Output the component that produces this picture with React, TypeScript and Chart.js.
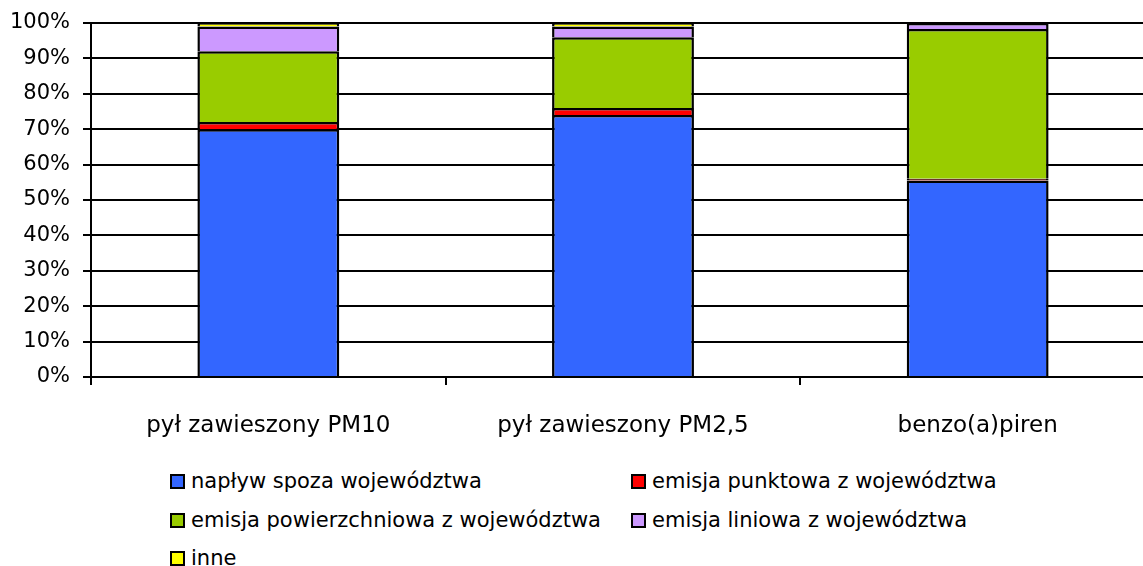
import React, { useEffect, useRef } from "react";
import { Chart, registerables } from "chart.js";

Chart.register(...registerables);

const categories = ["pył zawieszony PM10", "pył zawieszony PM2,5", "benzo(a)piren"];
const seriesNames = [
  "napływ spoza województwa",
  "emisja punktowa z województwa",
  "emisja powierzchniowa z województwa",
  "emisja liniowa z województwa",
  "inne",
];
const seriesColors = ["#3366FF", "#FF0000", "#99CC00", "#CC99FF", "#FFFF00"];
const naplyw = [70, 74, 55.5];
const punktowa = [2, 2, 0.5];
const powierzchniowa = [20, 20, 42.3];
const liniowa = [7, 3, 1.7];
const inne = [1, 1, 0];
const seriesValues = [naplyw, punktowa, powierzchniowa, liniowa, inne];
const yTicks = [0, 10, 20, 30, 40, 50, 60, 70, 80, 90, 100];

const FONT = "'DejaVu Sans', Verdana, sans-serif";

// legend grid: [column, row] per series
const legendCells: [number, number][] = [
  [0, 0],
  [1, 0],
  [0, 1],
  [1, 1],
  [0, 2],
];
const legendColLeft = [170, 631];
const legendRowTop = [473, 512, 550];

export default function App() {
  const ref = useRef<HTMLCanvasElement>(null);
  useEffect(() => {
    const ctx = ref.current!;
    const chart = new Chart(ctx, {
      type: "bar",
      data: {
        labels: categories,
        datasets: seriesValues.map((vals, i) => ({
          label: seriesNames[i],
          data: vals,
          backgroundColor: seriesColors[i],
          borderColor: "#000",
          borderWidth: { top: 2.5, left: 2.5, right: 2.5, bottom: 0 },
          borderSkipped: false,
          inflateAmount: 0,
          barPercentage: 0.4,
          categoryPercentage: 1,
        })),
      },
      options: {
        animation: false,
        responsive: false,
        devicePixelRatio: 1,
        layout: { padding: { top: 23, right: 5, left: 0, bottom: 0 } },
        plugins: { legend: { display: false }, tooltip: { enabled: false } },
        scales: {
          x: {
            stacked: true,
            offset: true,
            grid: {
              offset: true,
              drawOnChartArea: false,
              drawTicks: true,
              tickLength: 8,
              color: "#000",
              lineWidth: 2,
            },
            border: { display: true, color: "#000", width: 2 },
            ticks: {
              color: "#000",
              font: { family: FONT, size: 23 },
              padding: 27,
              maxRotation: 0,
            },
            afterFit: (s: any) => {
              s.height = 73;
              s.paddingLeft = 0;
              s.paddingRight = 0;
            },
          },
          y: {
            stacked: true,
            min: 0,
            max: 100,
            afterBuildTicks: (s: any) => {
              s.ticks = yTicks.map((v) => ({ value: v }));
            },
            grid: {
              color: "#000",
              lineWidth: 2,
              tickLength: 8,
              drawTicks: true,
            },
            border: { display: true, color: "#000", width: 2 },
            ticks: {
              color: "#000",
              font: { family: FONT, size: 21 },
              padding: 13,
              callback: (v: any) => v + "%",
            },
            afterFit: (s: any) => {
              s.width = 91;
              s.paddingTop = 0;
              s.paddingBottom = 0;
            },
          },
        },
      },
    });
    return () => chart.destroy();
  }, []);

  return (
    <div
      style={{
        position: "absolute",
        left: 0,
        top: 0,
        width: 1143,
        height: 566,
        overflow: "hidden",
        background: "#fff",
      }}
    >
      <canvas
        ref={ref}
        width={1160}
        height={450}
        style={{ position: "absolute", left: 0, top: 0, width: 1160, height: 450 }}
      />
      {seriesNames.map((name, i) => {
        const [c, r] = legendCells[i];
        return (
          <div
            key={name}
            style={{
              position: "absolute",
              left: legendColLeft[c],
              top: legendRowTop[r],
              height: 16,
              display: "flex",
              alignItems: "center",
              fontFamily: FONT,
              fontSize: 21,
              color: "#000",
              whiteSpace: "nowrap",
            }}
          >
            <span
              style={{
                display: "inline-block",
                boxSizing: "border-box",
                width: 15,
                height: 15,
                background: seriesColors[i],
                border: "2px solid #000",
                marginRight: 6,
              }}
            />
            <span style={{ lineHeight: "16px" }}>{name}</span>
          </div>
        );
      })}
    </div>
  );
}
